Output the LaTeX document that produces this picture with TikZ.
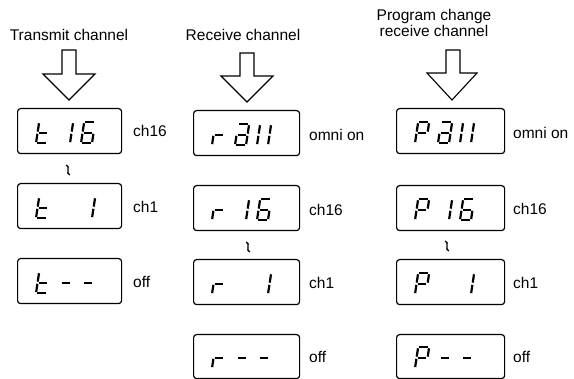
\documentclass[tikz,border=0pt]{standalone}
\usepackage{fontspec}
\setmainfont{Liberation Sans}
\tikzset{
  lbl/.style={font=\fontsize{15.5}{18}\selectfont, inner sep=0pt, anchor=west},
  headtxt/.style={font=\fontsize{15.5}{16.5}\selectfont, inner sep=0pt, align=center},
  disp/.style={draw, rounded corners=3pt, line width=1.2pt, minimum height=45pt, inner sep=0pt, anchor=north west},
  seg/.style={line width=2.2pt, shorten <=1.1pt, shorten >=1.1pt},
  barrow/.style={draw, line width=1.1pt, fill=white, line join=miter},
  wig/.style={line width=1.3pt},
}
\newcommand\sgA{\draw[seg] (0,21)--(11,21);}
\newcommand\sgB{\draw[seg] (11,21)--(11,10.5);}
\newcommand\sgC{\draw[seg] (11,10.5)--(11,0);}
\newcommand\sgD{\draw[seg] (0,0)--(11,0);}
\newcommand\sgE{\draw[seg] (0,0)--(0,10.5);}
\newcommand\sgF{\draw[seg] (0,10.5)--(0,21);}
\newcommand\sgG{\draw[seg] (0,10.5)--(11,10.5);}
\newcommand\digcell[3]{\begin{scope}[shift={(#1,#2)}, xslant=0.15]#3\end{scope}}
\newcommand\readout[4]{\begin{scope}[shift={(#1.south west)}]\digcell{19}{11}{#2}\digcell{42}{11}{#3}\digcell{64}{11}{#4}\end{scope}}
\newcommand\wiggle[1]{\draw[wig] ($(#1)+(-1.8,5)$) .. controls ($(#1)+(3,3.5)$) and ($(#1)+(-3,-3.5)$) .. ($(#1)+(1.8,-5)$);}
\usetikzlibrary{calc}
\begin{document}
\begin{tikzpicture}[x=1pt,y=1pt]
\fill[white] (0,0) rectangle (574,379);
\useasboundingbox (0,0) rectangle (574,379);

% headings
\node[headtxt] (h1) at (69,344.5) {Transmit channel};
\node[headtxt] (h2) at (243,344) {Receive channel};
\node[headtxt] (h3) at (434,356) {Program change\\receive channel};

% arrows
\draw[barrow] (62,329) -- (76,329) -- (76,305) -- (95,305) -- (69,279) -- (43,305) -- (62,305) -- cycle;
\draw[barrow] (240,326) -- (254,326) -- (254,303) -- (273,303) -- (247,277) -- (221,303) -- (240,303) -- cycle;
\draw[barrow] (446,329) -- (460,329) -- (460,306) -- (477,306) -- (452,279) -- (427,306) -- (446,306) -- cycle;

% column 1: transmit
\node[disp, minimum width=104pt] (t16) at (17,271) {};
\node[disp, minimum width=104pt] (t1) at (17,196) {};
\node[disp, minimum width=104pt] (toff) at (17,121) {};
\readout{t16}{\sgD\sgE\sgF\sgG}{\sgB\sgC}{\sgA\sgC\sgD\sgE\sgF\sgG}
\readout{t1}{\sgD\sgE\sgF\sgG}{}{\sgB\sgC}
\readout{toff}{\sgD\sgE\sgF\sgG}{\sgG}{\sgG}
\node[lbl] (lt16) at (133,248) {ch16};
\node[lbl] (lt1) at (133,172) {ch1};
\node[lbl] (ltoff) at (133,97) {off};
\coordinate (w1) at (68,209);
\wiggle{w1}

% column 2: receive
\node[disp, minimum width=106pt] (rall) at (193,269) {};
\node[disp, minimum width=106pt] (r16) at (193,194) {};
\node[disp, minimum width=106pt] (r1) at (193,120) {};
\node[disp, minimum width=106pt, minimum height=44pt] (roff) at (193,45) {};
\readout{rall}{\sgE\sgG}{\sgA\sgB\sgC\sgD\sgE\sgG}{\sgB\sgC\sgE\sgF}
\readout{r16}{\sgE\sgG}{\sgB\sgC}{\sgA\sgC\sgD\sgE\sgF\sgG}
\readout{r1}{\sgE\sgG}{}{\sgB\sgC}
\readout{roff}{\sgE\sgG}{\sgG}{\sgG}
\node[lbl] (lrall) at (309,244) {omni on};
\node[lbl] (lr16) at (309,169) {ch16};
\node[lbl] (lr1) at (309,96) {ch1};
\node[lbl] (lroff) at (309,22) {off};
\coordinate (w2) at (248,132);
\wiggle{w2}

% column 3: program change receive
\node[disp, minimum width=108pt] (pall) at (396,271) {};
\node[disp, minimum width=108pt] (p16) at (396,194) {};
\node[disp, minimum width=108pt] (p1) at (396,120) {};
\node[disp, minimum width=108pt, minimum height=44pt] (poff) at (396,45) {};
\readout{pall}{\sgA\sgB\sgE\sgF\sgG}{\sgA\sgB\sgC\sgD\sgE\sgG}{\sgB\sgC\sgE\sgF}
\readout{p16}{\sgA\sgB\sgE\sgF\sgG}{\sgB\sgC}{\sgA\sgC\sgD\sgE\sgF\sgG}
\readout{p1}{\sgA\sgB\sgE\sgF\sgG}{}{\sgB\sgC}
\readout{poff}{\sgA\sgB\sgE\sgF\sgG}{\sgG}{\sgG}
\node[lbl] (lpall) at (513,246) {omni on};
\node[lbl] (lp16) at (513,170) {ch16};
\node[lbl] (lp1) at (513,96) {ch1};
\node[lbl] (lpoff) at (513,22) {off};
\coordinate (w3) at (447,133);
\wiggle{w3}
\end{tikzpicture}
\end{document}
